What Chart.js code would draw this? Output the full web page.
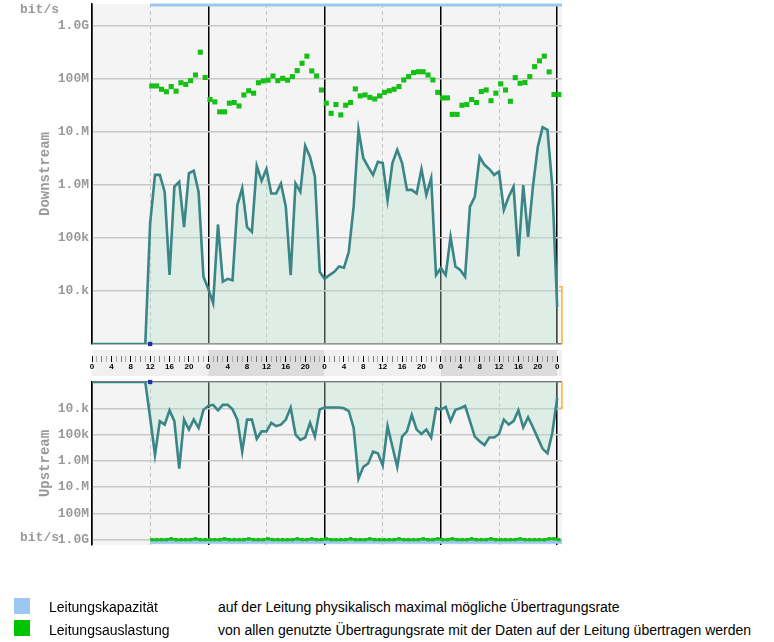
<!DOCTYPE html>
<html>
<head>
<meta charset="utf-8">
<script src="https://cdn.jsdelivr.net/npm/chart.js@4.4.1/dist/chart.umd.min.js"></script>
<style>
  body { margin: 0; background: #fff; width: 774px; height: 642px; position: relative; overflow: hidden; font-family: "Liberation Sans", Arial, sans-serif; }
  canvas { position: absolute; left: 0; }
  .unit { position: absolute; left: 20px; font: bold 13px "Liberation Mono", monospace; color: #999; line-height: 16px; }
  .sw { position: absolute; left: 14px; width: 16px; height: 16px; }
  .txt { position: absolute; font-size: 14px; line-height: 16px; color: #000; white-space: nowrap; }
</style>
</head>
<body>
<canvas id="down" style="top:0" width="774" height="348"></canvas>
<canvas id="strip" style="top:348px" width="774" height="28"></canvas>
<canvas id="up" style="top:376px" width="774" height="184"></canvas>
<div class="unit" style="top:2px">bit/s</div>
<div class="unit" style="top:530px">bit/s</div>

<div class="sw" style="top:598px;background:#9dc6f0"></div>
<div class="sw" style="top:620px;background:#00c400"></div>
<div class="txt" style="left:49px;top:599px">Leitungskapazität</div>
<div class="txt" style="left:218px;top:599px">auf der Leitung physikalisch maximal mögliche Übertragungsrate</div>
<div class="txt" style="left:49px;top:622px">Leitungsauslastung</div>
<div class="txt" style="left:218px;top:622px">von allen genutzte Übertragungsrate mit der Daten auf der Leitung übertragen werden</div>

<script>
// hourly samples, hour 0 .. 96 (4 days)
const downstream = [
  1e3, 1e3, 1e3, 1e3, 1e3, 1e3, 1e3, 1e3, 1e3, 1e3,
  1e3, 1e3, 1.9e5, 1.55e6, 1.55e6, 7.4e5, 2.0e4, 9.3e5, 1.15e6, 1.6e5,
  1.66e6, 1.86e6, 7.4e5, 1.86e4, 1.1e4, 5.9e3, 1.8e5, 1.5e4, 1.7e4, 1.6e4,
  4.2e5, 8.7e5, 1.6e5, 1.3e5, 2.3e6, 1.2e6, 2.0e6, 6.9e5, 6.9e5, 1.07e6,
  3.9e5, 2.0e4, 1.07e6, 7.4e5, 5.5e6, 3.4e6, 1.45e6, 2.3e4, 1.7e4, 2.0e4,
  2.3e4, 2.9e4, 2.75e4, 5.5e4, 3.9e5, 1.1e7, 3.2e6, 2.2e6, 1.55e6, 2.75e6,
  2.6e6, 5.2e5, 2.6e6, 4.6e6, 2.6e6, 8.1e5, 8.1e5, 6.9e5, 2.0e6, 6.5e5,
  1.35e6, 2.0e4, 2.7e4, 2.0e4, 1.05e5, 2.9e4, 2.5e4, 1.86e4, 3.9e5, 6.0e5,
  3.4e6, 2.4e6, 2.0e6, 1.55e6, 1.8e6, 3.4e5, 6.0e5, 9.3e5, 4.5e4, 1.0e6,
  1.05e5, 9.3e5, 5.2e6, 1.23e7, 1.1e7, 9.3e5, 5.0e3
];
const upstream = [
  1e3, 1e3, 1e3, 1e3, 1e3, 1e3, 1e3, 1e3, 1e3, 1e3,
  1e3, 1e3, 2.3e4, 6.0e5, 3.1e4, 4.2e4, 1.2e4, 3.1e4, 2.0e6, 2.7e4,
  6.5e4, 2.7e4, 5.6e4, 1.15e4, 8.1e3, 7.4e3, 1.2e4, 7.4e3, 7.4e3, 1.1e4,
  2.7e4, 4.5e5, 2.7e4, 2.7e4, 1.45e5, 7.6e4, 7.6e4, 3.6e4, 4.8e4, 4.2e4,
  2.7e4, 9.4e3, 1.0e5, 1.6e5, 1.3e5, 3.6e4, 1.2e5, 1.1e4, 9.4e3, 9.4e3,
  9.4e3, 9.4e3, 1.0e4, 1.27e4, 5.6e4, 4.8e6, 1.7e6, 1.26e6, 4.5e5, 5.2e5,
  1.5e6, 4.8e4, 2.9e5, 1.7e6, 1.2e5, 7.6e4, 1.8e4, 6.5e4, 9.5e4, 6.5e4,
  1.3e5, 1.0e4, 1.13e4, 8.9e3, 3.1e4, 1.15e4, 1.0e4, 8.1e3, 3.1e4, 1.2e5,
  1.8e5, 2.5e5, 1.3e5, 1.3e5, 9.5e4, 2.7e4, 4.2e4, 3.1e4, 1.2e4, 5.3e4,
  2.2e4, 5.3e4, 1.37e5, 3.5e5, 5.2e5, 8.7e4, 4.1e3
];
// Leitungsauslastung, one square per hour from hour 12
const utilStart = 12.35;
const downUtil = [
  7.4e7, 7.4e7, 6.4e7, 5.75e7, 7.2e7, 5.9e7, 8.5e7, 7.9e7, 9.3e7, 1.19e8,
  3.2e8, 1.07e8, 4.1e7, 3.7e7, 2.4e7, 2.4e7, 3.5e7, 3.6e7, 3.1e7, 5.0e7,
  6.0e7, 5.4e7, 8.5e7, 9.2e7, 9.5e7, 1.14e8, 9.3e7, 1.03e8, 9.5e7, 1.11e8,
  1.44e8, 1.98e8, 2.7e8, 1.42e8, 1.14e8, 6.2e7, 3.5e7, 2.25e7, 3.3e7, 2.1e7,
  3.2e7, 3.6e7, 6.5e7, 4.8e7, 5.0e7, 4.5e7, 4.2e7, 4.8e7, 5.6e7, 6.0e7,
  6.4e7, 7.2e7, 9.6e7, 1.11e8, 1.32e8, 1.37e8, 1.37e8, 1.19e8, 9.6e7, 5.6e7,
  4.4e7, 4.4e7, 2.15e7, 2.15e7, 3.2e7, 3.3e7, 4.1e7, 3.6e7, 5.8e7, 6.2e7,
  3.9e7, 5.4e7, 8.1e7, 6.2e7, 3.8e7, 1.06e8, 8.3e7, 8.6e7, 1.11e8, 1.71e8,
  2.2e8, 2.7e8, 1.36e8, 5.1e7, 5.1e7
];
const upUtil = [
  1e9, 1e9, 1e9, 1e9, 0.93e9, 1e9, 1e9, 1e9, 1e9, 0.93e9,
  1e9, 1e9, 1e9, 1e9, 1e9, 0.93e9, 1e9, 1e9, 1e9, 1e9,
  0.93e9, 1e9, 1e9, 1e9, 0.93e9, 1e9, 1e9, 1e9, 1e9, 1e9,
  0.93e9, 1e9, 1e9, 0.93e9, 1e9, 1e9, 0.93e9, 1e9, 1e9, 1e9,
  1e9, 0.93e9, 1e9, 1e9, 1e9, 0.93e9, 1e9, 1e9, 1e9, 1e9,
  1e9, 0.93e9, 1e9, 1e9, 1e9, 1e9, 0.93e9, 1e9, 1e9, 0.93e9,
  1e9, 1e9, 0.93e9, 1e9, 1e9, 1e9, 0.93e9, 1e9, 1e9, 1e9,
  0.93e9, 1e9, 1e9, 1e9, 1e9, 1e9, 0.93e9, 1e9, 1e9, 1e9,
  1e9, 1e9, 0.93e9, 0.93e9, 1e9
];
// Leitungskapazität
const capHours = [12, 97];
const downCap = [2.5e9, 2.5e9];
const upCap = [1.2e9, 1.2e9];
// current value bracket at the right edge
const markHours = [96.4, 97, 97];
const downMark = [1.2e4, 1.2e4, 1e3];
const upMark = [1.0e4, 1.0e4, 1e3];
const cursorHour = 12;

const dayTicks = [0, 24, 48, 72, 96];
const halfDayTicks = [12, 36, 60, 84];
const yTickValues = [1e3, 1e4, 1e5, 1e6, 1e7, 1e8, 1e9];
const yTickLabels = ['', '10.k', '100k', '1.0M', '10.M', '100M', '1.0G'];
const stripShades = ['#f0f0f0', '#dcdcdc'];
const hourMax = 97;

const MONO = '"Liberation Mono", "Courier New", monospace';
const pts = (vals, start) => vals.map((v, i) => ({ x: start + i, y: v }));
const pair = (xs, ys) => xs.map((x, i) => ({ x: x, y: ys[i] }));

const areaBg = {
  id: 'areaBg',
  beforeDraw(chart) {
    const { ctx, chartArea: a } = chart;
    ctx.save();
    ctx.fillStyle = '#f4f4f4';
    ctx.fillRect(a.left, a.top, a.right - a.left, a.bottom - a.top);
    ctx.restore();
  }
};

function noPad(s) {
  s.paddingTop = 0; s.paddingBottom = 0; s.paddingLeft = 0; s.paddingRight = 0;
}

function xAxes() {
  return {
    x: {
      type: 'linear', min: 0, max: hourMax,
      afterBuildTicks: s => { s.ticks = dayTicks.map(v => ({ value: v })); },
      afterFit: s => { s.height = 0; noPad(s); },
      ticks: { display: false },
      grid: { color: '#000', lineWidth: 1.5, drawTicks: false },
      border: { display: false }
    },
    x2: {
      type: 'linear', min: 0, max: hourMax,
      afterBuildTicks: s => { s.ticks = halfDayTicks.map(v => ({ value: v })); },
      afterFit: s => { s.height = 0; noPad(s); },
      ticks: { display: false },
      grid: { color: '#c4c4c4', lineWidth: 1, drawTicks: false },
      border: { display: false, dash: [4, 3] }
    }
  };
}

function yAxis(max, reverse, title) {
  return {
    type: 'logarithmic', min: 1e3, max: max, reverse: reverse,
    afterBuildTicks: s => { s.ticks = yTickValues.map(v => ({ value: v })); },
    afterFit: s => { s.width = 92; noPad(s); },
    ticks: {
      autoSkip: false, padding: 3, color: '#999',
      font: { family: MONO, size: 13, weight: 'bold' },
      callback: v => yTickLabels[yTickValues.indexOf(v)] || ''
    },
    grid: {
      drawTicks: false, lineWidth: 1.5,
      color: c => c.tick && c.tick.value === 1e3 ? '#777' : '#c8c8c8'
    },
    border: { color: '#000', width: 1.5 },
    title: {
      display: true, text: title, color: '#999',
      font: { family: MONO, size: 14, weight: 'bold' },
      padding: { top: 37, bottom: 0 }
    }
  };
}

function panel(id, flow, util, cap, mark, max, reverse, title, pad, utilLine) {
  const scales = xAxes();
  scales.y = yAxis(max, reverse, title);
  return new Chart(document.getElementById(id), {
    type: 'line',
    data: {
      datasets: [
        { data: [{ x: cursorHour, y: 1e3 }], showLine: false, pointStyle: 'rect',
          pointRadius: 3, pointBackgroundColor: '#1b2fb0', pointBorderWidth: 0, clip: false },
        { data: pair(markHours, mark), borderColor: '#f5b445', borderWidth: 1.5,
          pointRadius: 0, clip: false },
        { data: pts(util, utilStart), showLine: utilLine, borderColor: '#14c014', borderWidth: 2.5,
          pointStyle: 'rect', pointRadius: utilLine ? 2.4 : 3.6,
          pointBackgroundColor: '#14c014', pointBorderWidth: 0, clip: false },
        { data: pair(capHours, cap), borderColor: '#9dc6f0', borderWidth: utilLine ? 4 : 3,
          pointRadius: 0, clip: false },
        { data: pts(flow, 0), borderColor: '#3a8585', borderWidth: 2.6, pointRadius: 0,
          tension: 0, fill: { value: 1e3 }, backgroundColor: 'rgba(181,224,204,0.35)' }
      ]
    },
    options: {
      responsive: false, animation: false,
      layout: { padding: pad },
      plugins: { legend: { display: false }, tooltip: { enabled: false } },
      scales: scales
    },
    plugins: [areaBg]
  });
}

panel('down', downstream, downUtil, downCap, downMark, 2.6e9, false, 'Downstream',
  { top: 4, bottom: 4, left: 0, right: 212 }, false);
panel('up', upstream, upUtil, upCap, upMark, 1.6e9, true, 'Upstream',
  { top: 6, bottom: 15, left: 0, right: 212 }, true);

// time strip between the panels
new Chart(document.getElementById('strip'), {
  type: 'line',
  data: { datasets: [] },
  options: {
    responsive: false, animation: false,
    layout: { padding: { top: 2, bottom: 0, left: 92, right: 212 } },
    plugins: { legend: { display: false }, tooltip: { enabled: false } },
    scales: {
      x: {
        type: 'linear', min: 0, max: hourMax,
        afterBuildTicks: s => { s.ticks = Array.from({ length: 97 }, (_, i) => ({ value: i })); },
        afterFit: s => { s.height = 20; noPad(s); },
        ticks: {
          autoSkip: false, maxRotation: 0, padding: 0, color: '#000',
          font: { family: '"Liberation Sans", Arial, sans-serif', size: 8, weight: 'bold' },
          callback: v => v % 4 === 0 ? String(v % 24) : ''
        },
        grid: {
          drawOnChartArea: false, tickLength: 6, tickWidth: 1,
          tickColor: c => c.tick.value % 4 === 0 ? '#000' : (c.tick.value % 2 === 0 ? '#777' : '#aaa')
        },
        border: { display: false }
      },
      y: { display: false, min: 0, max: 1 }
    }
  },
  plugins: [{
    id: 'stripBg',
    beforeDraw(chart) {
      const { ctx, chartArea: a, scales: { x } } = chart;
      ctx.save();
      dayTicks.forEach((d, i) => {
        const x0 = x.getPixelForValue(d);
        const x1 = x.getPixelForValue(Math.min(d + 24, hourMax));
        ctx.fillStyle = stripShades[i % 2];
        ctx.fillRect(x0, a.top, x1 - x0, x.bottom - a.top);
      });
      ctx.restore();
    }
  }]
});
</script>
</body>
</html>
